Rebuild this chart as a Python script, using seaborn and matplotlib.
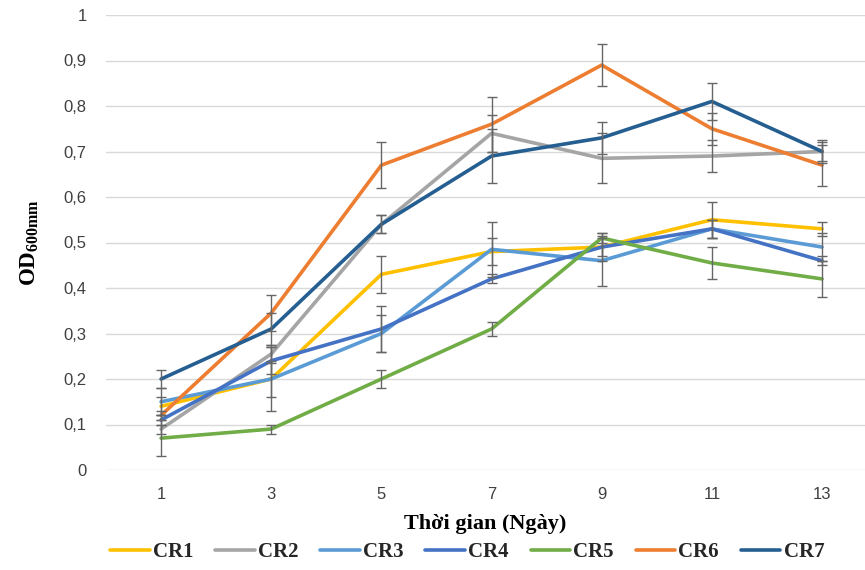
import pandas as pd
import matplotlib
matplotlib.use("Agg")
import matplotlib.pyplot as plt
import seaborn as sns

# Dữ liệu
days = [1, 3, 5, 7, 9, 11, 13]
series_names = ["CR1", "CR2", "CR3", "CR4", "CR5", "CR6", "CR7"]

cr1 = [0.14, 0.20, 0.43, 0.48, 0.49, 0.55, 0.53]
cr2 = [0.09, 0.255, 0.54, 0.74, 0.685, 0.69, 0.70]
cr3 = [0.15, 0.20, 0.30, 0.485, 0.46, 0.53, 0.49]
cr4 = [0.11, 0.24, 0.31, 0.42, 0.49, 0.53, 0.46]
cr5 = [0.07, 0.09, 0.20, 0.31, 0.51, 0.455, 0.42]
cr6 = [0.12, 0.345, 0.67, 0.76, 0.89, 0.75, 0.67]
cr7 = [0.20, 0.31, 0.54, 0.69, 0.73, 0.81, 0.70]

cr1_err = [0.02, 0.07, 0.04, 0.03, 0.03, 0.04, 0.015]
cr2_err = [0.01, 0.02, 0.02, 0.04, 0.055, 0.035, 0.02]
cr3_err = [0.03, 0.04, 0.04, 0.06, 0.055, 0.02, 0.03]
cr4_err = [0.01, 0.03, 0.05, 0.01, 0.02, 0.02, 0.01]
cr5_err = [0.04, 0.01, 0.02, 0.015, 0.01, 0.035, 0.04]
cr6_err = [0.01, 0.04, 0.05, 0.06, 0.047, 0.035, 0.045]
cr7_err = [0.02, 0.035, 0.02, 0.06, 0.035, 0.04, 0.025]

values = [cr1, cr2, cr3, cr4, cr5, cr6, cr7]
errors = [cr1_err, cr2_err, cr3_err, cr4_err, cr5_err, cr6_err, cr7_err]
colors = ["#FFC000", "#A5A5A5", "#5B9BD5", "#4472C4", "#70AD47", "#ED7D31", "#255E91"]

rows = []
for name, vals, errs in zip(series_names, values, errors):
    for d, v, e in zip(days, vals, errs):
        rows.append({"day": d, "od": v, "err": e, "series": name})
df = pd.DataFrame(rows)

sns.set_theme(style="white")
plt.rcParams["font.family"] = ["Liberation Sans", "DejaVu Sans"]
plt.rcParams["mathtext.fontset"] = "custom"
plt.rcParams["mathtext.bf"] = "Liberation Serif:bold"
plt.rcParams["mathtext.rm"] = "Liberation Serif"

fig = plt.figure(figsize=(8.65, 5.70), dpi=100)
ax = fig.add_axes([106 / 865, 1 - 470 / 570, 1 - 106 / 865, (470 - 15) / 570])

sns.lineplot(data=df, x="day", y="od", hue="series", palette=colors,
             hue_order=series_names, linewidth=2.6, ax=ax, legend=True)

# Thanh sai số
for name, vals, errs in zip(series_names, values, errors):
    ax.errorbar(days, vals, yerr=errs, fmt="none", ecolor="#666666",
                elinewidth=1.0, capsize=3.6, capthick=1.0, zorder=5)

ax.set_xlim(0, 13.78)
ax.set_ylim(0, 1)
ax.set_xticks(days)
ax.set_xticklabels([str(d) for d in days])
yt = [i / 10 for i in range(11)]
ax.set_yticks(yt)
ax.set_yticklabels(["0"] + [f"{v:.1f}".replace(".", ",") for v in yt[1:-1]] + ["1"])
ax.tick_params(axis="both", length=0, labelsize=12, colors="#404040")
ax.tick_params(axis="y", pad=14)
ax.tick_params(axis="x", pad=12)
ax.yaxis.grid(True, color="#D9D9D9", linewidth=1.0)
ax.xaxis.grid(False)
for s in ax.spines.values():
    s.set_visible(False)

ax.set_xlabel("Thời gian (Ngày)", family=["Liberation Serif", "DejaVu Serif"],
              fontsize=16, fontweight="bold", labelpad=9, color="black")
ax.set_ylabel(r"$\mathbf{OD_{600mm}}$", fontsize=16.5, labelpad=16, color="black")

handles, labels = ax.get_legend_handles_labels()
ax.get_legend().remove()
fig.legend(handles, labels, loc="center", bbox_to_anchor=(0.54, 1 - 552 / 570),
           ncol=7, frameon=False, handlelength=1.9, handletextpad=0.15,
           columnspacing=1.05,
           prop={"family": ["Liberation Serif", "DejaVu Serif"], "weight": "bold", "size": 15})

fig.savefig("out.png", dpi=100)
